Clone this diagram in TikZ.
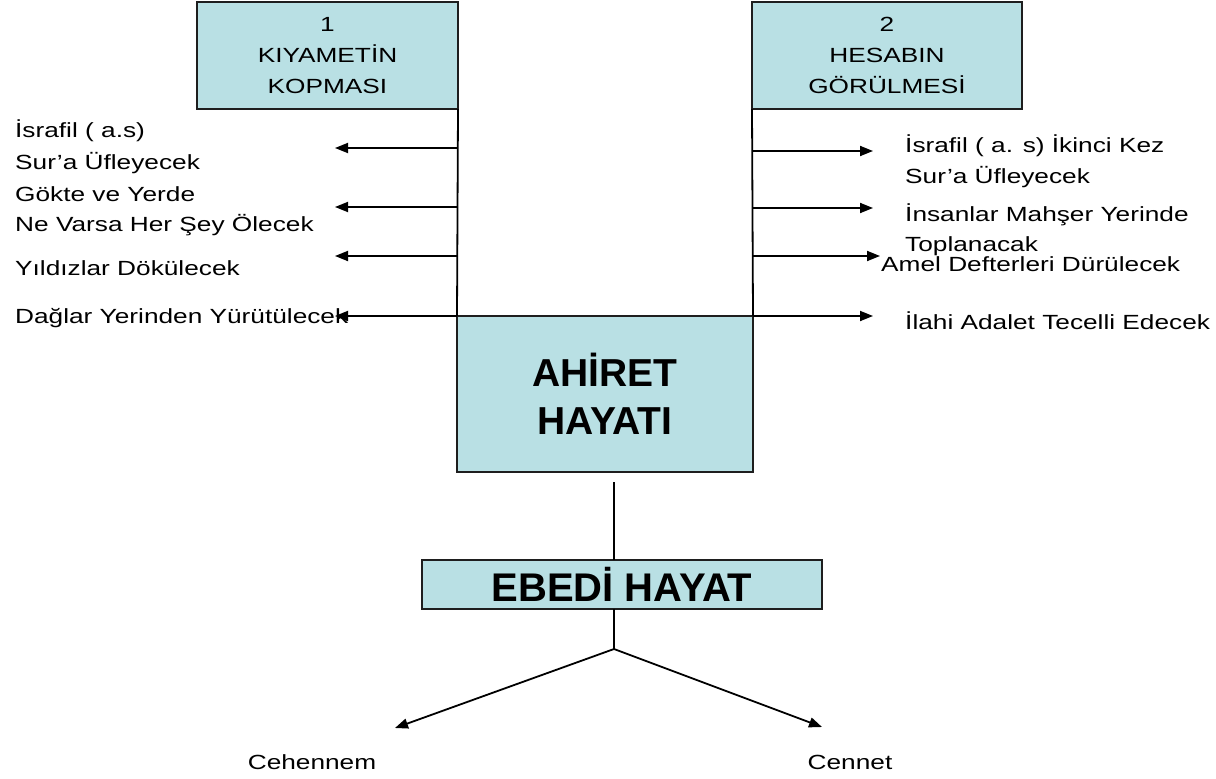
\documentclass[tikz,border=0pt]{standalone}
\usepackage{fontspec}
\setmainfont{Liberation Sans}
\newfontfamily\rf{Liberation Sans}[FakeStretch=1.28]
\usetikzlibrary{arrows.meta}
\definecolor{boxblue}{RGB}{185,224,228}
\definecolor{edgecol}{RGB}{30,30,30}
\tikzset{
  box/.style={draw=edgecol, line width=1.8pt, fill=boxblue, inner sep=0pt, outer sep=0pt},
  reg/.style={font=\rf\fontsize{20.5}{31}\selectfont, inner sep=0pt},
  big/.style={font=\bfseries\fontsize{39}{48}\selectfont, inner sep=0pt},
  conn/.style={line width=1.8pt, draw=black},
  arr/.style={conn, -{Triangle[length=13pt,width=10pt]}},
  lbl/.style={reg, anchor=base west},
}
\begin{document}
\begin{tikzpicture}[x=1pt,y=-1pt]
\useasboundingbox (0,0) rectangle (1216,779);

% boxes
\node[box, reg, align=center, minimum width=261pt, minimum height=107pt] (k1) at (327.5,55.5) {1\\KIYAMETİN\\KOPMASI};
\node[box, reg, align=center, minimum width=270pt, minimum height=107pt] (k2) at (887,55.5) {2\\HESABIN\\GÖRÜLMESİ};
\node[box, big, align=center, minimum width=296pt, minimum height=156pt] (ah) at (605,394) {AHİRET\\HAYATI};
\node[box, font=\bfseries\fontsize{40}{44}\selectfont, minimum width=400pt, minimum height=49pt] (eb) at (622,584.5) {EBEDİ HAYAT};

% vertical connectors
\draw[conn] (k1.south east) -- (ah.north west);
\draw[conn] (k2.south west) -- (ah.north east);

% left arrows
\coordinate (ls1) at (k1.south east |- 0,148);
\coordinate (ls2) at (k1.south east |- 0,207);
\coordinate (ls3) at (k1.south east |- 0,256);
\coordinate (ls4) at (ah.north west);
\coordinate (lt1) at (335,148);
\coordinate (lt2) at (335,207);
\coordinate (lt3) at (335,256);
\coordinate (lt4) at (335,316);
\draw[arr] (ls1) -- (lt1);
\draw[arr] (ls2) -- (lt2);
\draw[arr] (ls3) -- (lt3);
\draw[arr] (ls4) -- (lt4 |- ls4);

% right arrows
\coordinate (rs1) at (k2.south west |- 0,151);
\coordinate (rs2) at (k2.south west |- 0,208);
\coordinate (rs3) at (k2.south west |- 0,256);
\coordinate (rs4) at (ah.north east);
\coordinate (rt1) at (873,151);
\coordinate (rt2) at (873,208);
\coordinate (rt3) at (880,256);
\coordinate (rt4) at (873,316);
\draw[arr] (rs1) -- (rt1);
\draw[arr] (rs2) -- (rt2);
\draw[arr] (rs3) -- (rt3);
\draw[arr] (rs4) -- (rt4 |- rs4);

% left labels
\node[lbl] (l1a) at (15,137.5) {İsrafil ( a.s)};
\node[lbl] (l1b) at (15,169.5) {Sur’a Üfleyecek};
\node[lbl] (l2a) at (15,201.5) {Gökte ve Yerde};
\node[lbl] (l2b) at (15,231) {Ne Varsa Her Şey Ölecek};
\node[lbl] (l3) at (15,275.5) {Yıldızlar Dökülecek};
\node[lbl] (l4) at (15,323.5) {Dağlar Yerinden Yürütülecek};

% right labels
\node[lbl] (r1a) at (905,152.5) {İsrafil ( a. s) İkinci Kez};
\node[lbl] (r1b) at (905,183.5) {Sur’a Üfleyecek};
\node[lbl] (r2a) at (905,221.5) {İnsanlar Mahşer Yerinde};
\node[lbl] (r2b) at (905,251.5) {Toplanacak};
\node[lbl] (r3) at (881,271.5) {Amel Defterleri Dürülecek};
\node[lbl] (r4) at (905,329.5) {İlahi Adalet Tecelli Edecek};

% bottom
\coordinate (b0) at (614,482);
\coordinate (fork) at (614,649);
\coordinate (tipL) at (395,728);
\coordinate (tipR) at (822,727);
\draw[conn] (b0) -- (b0 |- eb.north);
\draw[conn] (b0 |- eb.south) -- (fork);
\draw[arr] (fork) -- (tipL);
\draw[arr] (fork) -- (tipR);
\node[reg, anchor=base] (ceh) at (312,769.5) {Cehennem};
\node[reg, anchor=base] (cen) at (850,769.5) {Cennet};
\end{tikzpicture}
\end{document}
